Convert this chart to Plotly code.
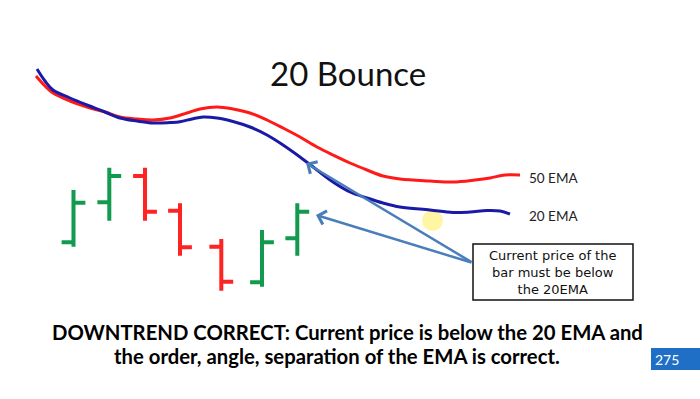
import plotly.graph_objects as go

W, H = 700, 399

# ---- data (price units: screen-space price scale, higher = up) ----
bar_x = [73.5, 109.3, 145.0, 180.0, 221.3, 262.0, 297.3]
bar_open = [156.7, 196.7, 223.0, 188.3, 152.3, 116.7, 160.7]
bar_high = [209.0, 231.3, 231.3, 195.7, 160.0, 169.0, 195.7]
bar_low = [152.3, 178.3, 178.3, 143.3, 108.3, 112.3, 143.3]
bar_close = [196.3, 223.0, 187.3, 151.7, 117.3, 156.7, 187.3]

ema50_x = [36, 45, 53, 70, 87, 105, 120, 137, 153, 170, 187, 200, 217, 233, 250,
           267, 283, 300, 317, 333, 350, 367, 383, 400, 430, 453, 475, 490, 505, 520]
ema50_y = [323, 313, 306, 298, 292, 287, 282, 280, 279, 281, 286, 290, 292, 290, 286,
           279, 271, 262, 252, 244, 236, 229, 223, 220, 218, 217, 219, 221, 224, 224]

ema20_x = [37, 45, 53, 70, 87, 105, 120, 137, 153, 170, 180, 192, 203, 217, 233, 250,
           267, 283, 300, 317, 333, 350, 367, 383, 400, 430, 453, 470, 487, 500, 510]
ema20_y = [330, 318, 309, 301, 294, 287, 281, 278, 276, 276.5, 277.3, 280, 282, 281, 277.5, 272,
           264, 254, 242, 229, 217, 207, 201, 196, 192, 189, 186.5, 187, 188.5, 188, 185]

title = "20 Bounce"
caption = ["DOWNTREND CORRECT: Current price is below the 20 EMA and",
           "the order, angle, separation of the EMA is correct."]
note = "Current price of the<br>bar must be below<br>the 20EMA"
page = "275"


def Y(py):
    return H - py


fig = go.Figure()

fig.add_trace(go.Scatter(x=ema50_x, y=ema50_y, mode="lines",
                         line=dict(color="#FF1A1A", width=3, shape="spline"),
                         hoverinfo="skip", showlegend=False))
fig.add_trace(go.Scatter(x=ema20_x, y=ema20_y, mode="lines",
                         line=dict(color="#1A1AA6", width=3, shape="spline"),
                         hoverinfo="skip", showlegend=False))

fig.add_trace(go.Ohlc(x=bar_x, open=bar_open, high=bar_high, low=bar_low, close=bar_close,
                      increasing=dict(line=dict(color="#129A4E", width=4)),
                      decreasing=dict(line=dict(color="#FF2424", width=4)),
                      tickwidth=0.34, showlegend=False, hoverinfo="skip"))

shapes = [
    dict(type="rect", xref="x", yref="y", x0=473, x1=633, y0=Y(300), y1=Y(244),
         line=dict(color="#111111", width=1.5), fillcolor="white", layer="above"),
    dict(type="rect", xref="x", yref="y", x0=651, x1=701, y0=Y(370), y1=Y(348),
         line=dict(width=0), fillcolor="#1F6FC6"),
    dict(type="circle", xref="x", yref="y", x0=422, x1=443, y0=Y(231), y1=Y(210),
         line=dict(width=0), fillcolor="rgba(255,238,90,0.55)", layer="below"),
]

ann = []
ann.append(dict(x=348, y=Y(73), text=title, showarrow=False,
                font=dict(family="Lato", size=33, color="#111111")))
ann.append(dict(x=347.5, y=Y(332), text=caption[0], showarrow=False,
                font=dict(family="Lato", size=20.3, color="#000000", weight="bold")))
ann.append(dict(x=336.5, y=Y(356), text=caption[1], showarrow=False,
                font=dict(family="Lato", size=20.3, color="#000000", weight="bold")))
ann.append(dict(x=527, y=Y(177.5), text="50 EMA", showarrow=False, xanchor="left",
                font=dict(family="Lato", size=13.5, color="#222222")))
ann.append(dict(x=527, y=Y(216), text="20 EMA", showarrow=False, xanchor="left",
                font=dict(family="Lato", size=13.5, color="#222222")))
ann.append(dict(x=552.5, y=Y(272.5), text=note, showarrow=False,
                font=dict(family="DejaVu Sans", size=13, color="#111111")))
ann.append(dict(x=667, y=Y(359), text=page, showarrow=False,
                font=dict(family="Lato", size=14, color="white")))
for tx, ty in [(306, 163), (316, 215)]:
    ann.append(dict(x=tx, y=Y(ty), ax=473, ay=Y(263), xref="x", yref="y",
                    axref="x", ayref="y", text="", showarrow=True,
                    arrowhead=4, arrowsize=1.1, arrowwidth=2.5, arrowcolor="#4A7EBB"))

fig.update_layout(
    width=W, height=H, margin=dict(l=0, r=0, t=0, b=0),
    paper_bgcolor="white", plot_bgcolor="white",
    xaxis=dict(range=[0, W], visible=False, fixedrange=True, rangeslider=dict(visible=False)),
    yaxis=dict(range=[0, H], visible=False, fixedrange=True),
    shapes=shapes, annotations=ann, showlegend=False,
)

fig.write_html("out.html", config={"displayModeBar": False},
               post_script="document.body.style.margin='0px';document.body.style.overflow='hidden';")
